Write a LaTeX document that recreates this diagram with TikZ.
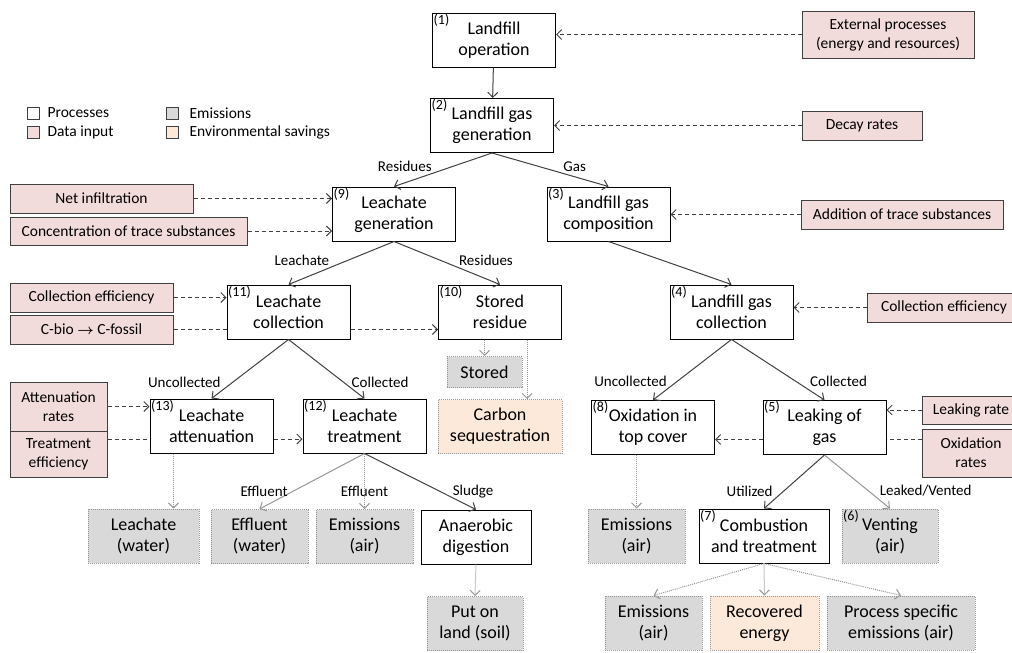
\documentclass[tikz,border=0pt]{standalone}
\usepackage{fontspec}
\setmainfont{Carlito}
\usepackage{tikz}
\usetikzlibrary{shapes, arrows, arrows.meta, positioning}

\definecolor{inputpink}{RGB}{242,220,219}
\definecolor{emisgray}{RGB}{217,217,217}
\definecolor{savingpeach}{RGB}{253,233,217}
\definecolor{darkline}{RGB}{64,64,64}
\definecolor{lightline}{RGB}{150,150,150}

\newcommand{\procfont}{\fontsize{18}{21}\selectfont}
\newcommand{\datafont}{\fontsize{15.5}{19}\selectfont}
\newcommand{\lblfont}{\fontsize{15}{17}\selectfont}
\newcommand{\numfont}{\fontsize{14}{15}\selectfont}

\tikzset{
    process/.style={draw=black, fill=white, line width=1pt, align=center, font=\procfont, minimum width=123pt, minimum height=54pt, inner sep=1pt},
    datainput/.style={draw=darkline, fill=inputpink, line width=1pt, align=center, font=\datafont, minimum height=28pt, inner sep=1pt},
    emission/.style={draw=lightline, densely dotted, fill=emisgray, line width=1pt, align=center, font=\procfont, minimum width=97pt, minimum height=54pt, inner sep=1pt},
    saving/.style={emission, fill=savingpeach},
    num/.style={anchor=north west, inner sep=1.5pt, font=\numfont},
    lbl/.style={font=\lblfont, inner sep=1pt},
    legendbox/.style={draw=darkline, line width=0.8pt, minimum size=12pt, inner sep=0pt},
    legendtext/.style={font=\datafont, inner sep=0pt},
    flow/.style={->, draw=darkline, line width=1pt},
    input/.style={->, dash pattern=on 4pt off 3pt, draw=darkline, line width=1pt},
    output/.style={->, densely dotted, draw=lightline, line width=1pt},
    >={Straight Barb[length=5pt, width=10pt]}
}

\begin{document}
\begin{tikzpicture}[x=1pt, y=-1pt]
        \useasboundingbox (0,0) rectangle (1012,653);

        % Legend
        \node (lgproc) [legendbox, fill=white] at (33,113) {};
        \node (lgdata) [legendbox, fill=inputpink] at (33,132) {};
        \node (lgemis) [legendbox, fill=emisgray] at (172,113) {};
        \node (lgsave) [legendbox, fill=savingpeach] at (172,132) {};
        \node (lgproctext) [legendtext, right=8pt of lgproc] {Processes};
        \node (lgdatatext) [legendtext, right=8pt of lgdata] {Data input};
        \node (lgemistext) [legendtext, right=11pt of lgemis] {Emissions};
        \node (lgsavetext) [legendtext, right=11pt of lgsave] {Environmental savings};

        % Processes
        \node (p1) [process, label={[num]north west:(1)}] at (494,40) {Landfill\\operation};
        \node (p2) [process, label={[num]north west:(2)}] at (492,125.5) {Landfill gas\\generation};
        \node (p9) [process, label={[num]north west:(9)}] at (394,214) {Leachate\\generation};
        \node (p3) [process, label={[num]north west:(3)}] at (608.5,214) {Landfill gas\\composition};
        \node (p11) [process, label={[num]north west:(11)}] at (288.5,312) {Leachate\\collection};
        \node (p10) [process, label={[num]north west:(10)}] at (500,312) {Stored\\residue};
        \node (p4) [process, label={[num]north west:(4)}] at (731.5,312) {Landfill gas\\collection};
        \node (p13) [process, label={[num]north west:(13)}] at (211.5,426) {Leachate\\attenuation};
        \node (p12) [process, label={[num]north west:(12)}] at (364.5,426) {Leachate\\treatment};
        \node (p8) [process, label={[num]north west:(8)}] at (653,427.5) {Oxidation in\\top cover};
        \node (p5) [process, label={[num]north west:(5)}] at (824.5,427.5) {Leaking of\\gas};
        \node (ad) [process, minimum width=110pt] at (476,537) {Anaerobic\\digestion};
        \node (p7) [process, minimum width=130pt, label={[num]north west:(7)}] at (764,536) {Combustion\\and treatment};

        % Emissions and savings
        \node (stored) [emission, minimum width=75pt, minimum height=31pt] at (484.5,372) {Stored};
        \node (carbon) [saving, minimum width=124pt] at (500,426.5) {Carbon\\sequestration};
        \node (lwater) [emission, minimum width=111pt] at (143.5,536) {Leachate\\(water)};
        \node (ewater) [emission] at (259.5,536.5) {Effluent\\(water)};
        \node (eair1) [emission] at (364.5,536.5) {Emissions\\(air)};
        \node (soil) [emission, minimum width=96pt] at (475,623.5) {Put on\\land (soil)};
        \node (eair2) [emission] at (636.5,536) {Emissions\\(air)};
        \node (p6) [emission, minimum width=96pt, label={[num]north west:(6)}] at (890,536) {Venting\\(air)};
        \node (eair3) [emission] at (653.5,623) {Emissions\\(air)};
        \node (energy) [saving, minimum width=109pt] at (764.5,623) {Recovered\\energy};
        \node (pse) [emission, minimum width=148pt] at (901,623) {Process specific\\emissions (air)};

        % Data input
        \node (extproc) [datainput, minimum width=172pt, minimum height=47pt] at (888,34.5) {External processes\\(energy and resources)};
        \node (decay) [datainput, minimum width=120pt, minimum height=29pt] at (862,125.5) {Decay rates};
        \node (netinf) [datainput, minimum width=183pt, minimum height=29pt] at (101.5,198.5) {Net infiltration};
        \node (conc) [datainput, minimum width=237pt] at (128.5,231) {Concentration of trace substances};
        \node (addtrace) [datainput, minimum width=202pt, minimum height=29pt] at (902,214.5) {Addition of trace substances};
        \node (colleffl) [datainput, minimum width=163pt, minimum height=29pt] at (91.5,297.5) {Collection efficiency};
        \node (cbio) [datainput, minimum width=163pt, minimum height=29pt] at (91.5,329.5) {C-bio {\boldmath$\rightarrow$} C-fossil};
        \node (colleffr) [datainput, minimum width=154pt, minimum height=29pt] at (944,307.5) {Collection efficiency};
        \node (attrate) [datainput, minimum width=97pt, minimum height=49pt] at (58.5,406.5) {Attenuation\\rates};
        \node (treateff) [datainput, minimum width=97pt, minimum height=46pt] at (58.5,454) {Treatment\\efficiency};
        \node (leakrate) [datainput, minimum width=98pt] at (971,410) {Leaking rate};
        \node (oxrate) [datainput, minimum width=98pt, minimum height=48pt] at (971,453) {Oxidation\\rates};

        % Main flows
        \draw[flow] (p1) -- (p2);
        \draw[flow] (p2.south) -- node[lbl, pos=0.6, above left] {Residues} (p9.north);
        \draw[flow] (p2.south) -- node[lbl, pos=0.6, above right] {Gas} (p3.north);
        \draw[flow] (p9.south) -- node[lbl, pos=0.6, above left] {Leachate} (p11.north);
        \draw[flow] (p9.south) -- node[lbl, pos=0.6, above right] {Residues} (p10.north);
        \draw[flow] (p3.south) -- (p4.north);
        \draw[flow] (p11.south) -- node[lbl, pos=0.72, left=11pt] {Uncollected} (p13.north);
        \draw[flow] (p11.south) -- node[lbl, pos=0.72, right=7pt] {Collected} (p12.north);
        \draw[flow] (p4.south) -- node[lbl, pos=0.69, left=9pt] {Uncollected} (p8.north);
        \draw[flow] (p4.south) -- node[lbl, pos=0.69, right=13pt] {Collected} (p5.north);
        \draw[flow] (p12.south) -- node[lbl, pos=0.68, right=11pt] {Sludge} (ad.north);
        \draw[flow] (p5.south) -- node[lbl, pos=0.67, left=10pt] {Utilized} (p7.north);
        \draw[flow, draw=lightline] (p12.south) -- node[lbl, pos=0.68, left=4pt] {Effluent} (ewater.north);
        \draw[flow, draw=lightline] (p5.south) -- node[lbl, pos=0.67, right=10pt] {Leaked/Vented} (p6.north);

        % Data input arrows
        \draw[input] (extproc.west) -- (p1.east |- extproc.west);
        \draw[input] (decay.west) -- (p2.east |- decay.west);
        \draw[input] (netinf.east) -- (p9.west |- netinf.east);
        \draw[input] (conc.east) -- (p9.west |- conc.east);
        \draw[input] (addtrace.west) -- (p3.east |- addtrace.west);
        \draw[input] (colleffl.east) -- (p11.west |- colleffl.east);
        \draw[input, -] (cbio.east) -- (p11.west |- cbio.east);
        \draw[input] (p11.east |- cbio.east) -- (p10.west |- cbio.east);
        \draw[input] (colleffr.west) -- (p4.east |- colleffr.west);
        \draw[input] (attrate.east) -- (p13.west |- attrate.east);
        \coordinate (tline) at ([yshift=-13pt]p13.west);
        \draw[input, -] (treateff.east |- tline) -- (tline);
        \draw[input] (p13.east |- tline) -- (p12.west |- tline);
        \draw[input] (leakrate.west) -- (p5.east |- leakrate.west);
        \coordinate (oline) at ([yshift=-12pt]p5.east);
        \draw[input, -] (oxrate.west |- oline) -- (oline);
        \draw[input] (p5.west |- oline) -- (p8.east |- oline);

        % Outputs
        \draw[output] (stored.north |- p10.south) -- (stored.north);
        \draw[output] ([xshift=27pt]p10.south) -- ([xshift=27pt]p10.south |- carbon.north);
        \draw[output] ([xshift=-38pt]p13.south) -- ([xshift=-38pt]p13.south |- lwater.north);
        \draw[output] (p12.south) -- node[lbl, pos=0.68, text=black] {Effluent} (eair1.north);
        \draw[output] (ad.south) -- (soil.north);
        \draw[output] (eair2.north |- p8.south) -- (eair2.north);
        \draw[output] (p7.south) -- (eair3.north);
        \draw[output] (p7.south) -- (energy.north);
        \draw[output] (p7.south) -- (pse.north);
    \end{tikzpicture}
\end{document}
